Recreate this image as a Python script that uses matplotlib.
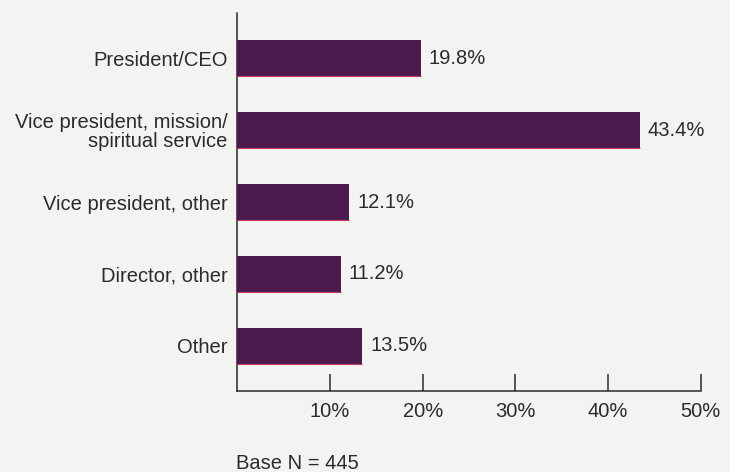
import matplotlib
matplotlib.use('Agg')
import matplotlib.pyplot as plt
import numpy as np

categories = ['President/CEO', 'Vice president, mission/\nspiritual service',
              'Vice president, other', 'Director, other', 'Other']
shares = [19.8, 43.4, 12.1, 11.2, 13.5]
tick_vals = [10, 20, 30, 40, 50]
tick_labels = ['10%', '20%', '30%', '40%', '50%']

plt.rcParams['font.family'] = ['Liberation Sans', 'DejaVu Sans']
bg = '#f3f3f1'
ink = '#2b2b2b'
fs = 14.5

fig = plt.figure(figsize=(7.3, 4.72), dpi=100, facecolor=bg)
ax = fig.add_axes([0.325, 0.172, 0.635, 0.8])
ax.set_facecolor(bg)

y = np.arange(len(categories))
bars = ax.barh(y, shares, height=0.5, color='#4c1b4d', zorder=3)
# thin reddish print edge along the bottom of each bar
ax.hlines(y + 0.25, 0, shares, color='#c2405e', lw=0.8, zorder=4)

for bar, val in zip(bars, shares):
    ax.text(bar.get_width() + 0.85, bar.get_y() + bar.get_height() / 2,
            f'{val}%', va='center', ha='left', fontsize=fs, color=ink)

ax.set_yticks(y)
ax.set_yticklabels(categories, fontsize=fs, color=ink, linespacing=1.0)
ax.tick_params(axis='y', length=0, pad=7)
ax.set_xticks(tick_vals)
ax.set_xticklabels(tick_labels, fontsize=fs, color=ink)
ax.tick_params(axis='x', direction='in', length=12, width=1.1, color=ink, pad=8)

ax.set_xlim(0, 50)
ax.set_ylim(4.625, -0.625)
for s in ['top', 'right']:
    ax.spines[s].set_visible(False)
for s in ['left', 'bottom']:
    ax.spines[s].set_color(ink)
    ax.spines[s].set_linewidth(1.1)

fig.text(0.323, 0.019, 'Base N = 445', fontsize=fs, color=ink, va='center', ha='left')

plt.savefig('out.png', dpi=100, facecolor=bg)
plt.close()
